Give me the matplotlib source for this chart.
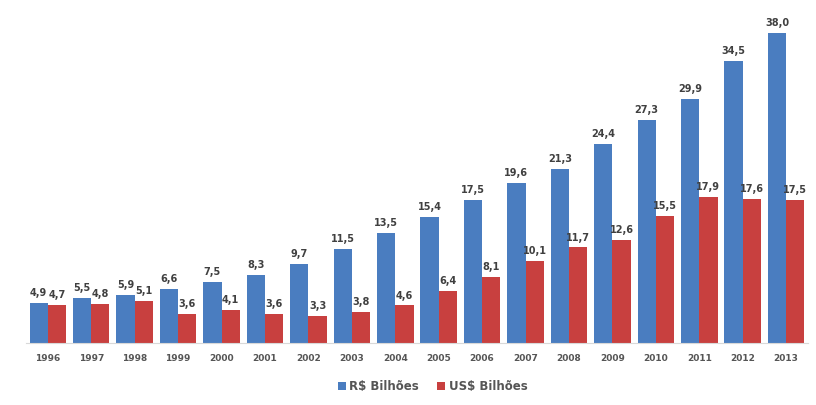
import matplotlib.pyplot as plt
import numpy as np

years = ['1996', '1997', '1998', '1999', '2000', '2001', '2002', '2003', '2004',
         '2005', '2006', '2007', '2008', '2009', '2010', '2011', '2012', '2013']
brl = [4.9, 5.5, 5.9, 6.6, 7.5, 8.3, 9.7, 11.5, 13.5,
       15.4, 17.5, 19.6, 21.3, 24.4, 27.3, 29.9, 34.5, 38.0]
usd = [4.7, 4.8, 5.1, 3.6, 4.1, 3.6, 3.3, 3.8, 4.6,
       6.4, 8.1, 10.1, 11.7, 12.6, 15.5, 17.9, 17.6, 17.5]

blue = '#4a7dc0'
red = '#c8403f'
txt = '#404040'

fig = plt.figure(figsize=(8.16, 4.05), dpi=100)
ax = fig.add_axes([0.032, 0.153, 0.958, 0.807])

x = np.arange(len(years))
w = 0.42
b1 = ax.bar(x - w / 2, brl, w, color=blue, label='R$ Bilhões')
b2 = ax.bar(x + w / 2, usd, w, color=red, label='US$ Bilhões')

def fmt(v):
    return f'{v:.1f}'.replace('.', ',')

for rect, v in zip(b1, brl):
    ax.text(rect.get_x() + rect.get_width() / 2, v + 0.6, fmt(v),
            ha='center', va='bottom', fontsize=7, fontweight='bold', color=txt)
for rect, v in zip(b2, usd):
    ax.text(rect.get_x() + rect.get_width() / 2, v + 0.6, fmt(v),
            ha='center', va='bottom', fontsize=7, fontweight='bold', color=txt)

ax.set_xlim(-0.5, len(years) - 0.5)
ax.set_ylim(0, 40)
ax.set_xticks(x)
ax.set_xticklabels(years, fontsize=6.5, fontweight='bold', color='#555555')
ax.tick_params(axis='x', length=0, pad=8)
ax.set_yticks([])
for s in ['top', 'right', 'left']:
    ax.spines[s].set_visible(False)
ax.spines['bottom'].set_color('#d9d9d9')

fig.legend(handles=[b1, b2], loc='center', bbox_to_anchor=(0.53, 0.045), ncol=2,
           frameon=False, prop={'size': 8.5, 'weight': 'bold'}, handlelength=0.7,
           handleheight=0.7, handletextpad=0.3, columnspacing=1.5, labelcolor='#555555')

fig.savefig('out.png', dpi=100)
